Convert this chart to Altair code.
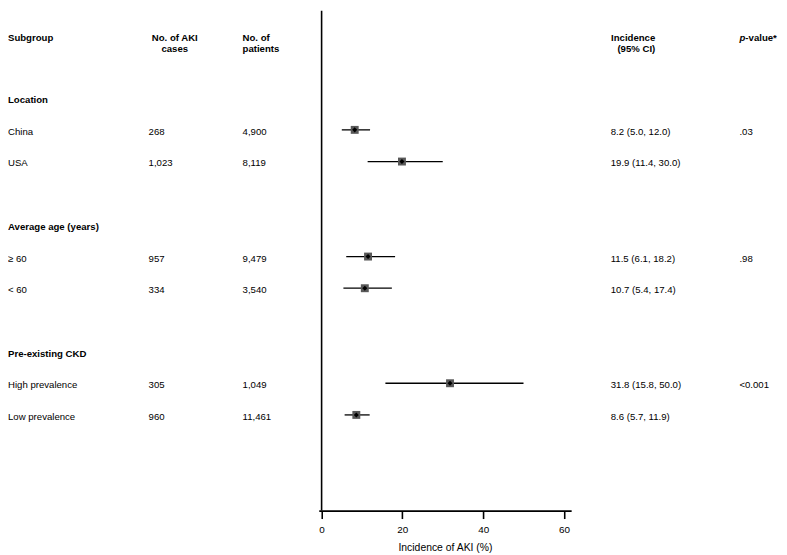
import altair as alt
import pandas as pd

# ---- data ----
sections = ["Location", "Average age (years)", "Pre-existing CKD"]
subgroups = [["China", "USA"], ["\u2265 60", "< 60"], ["High prevalence", "Low prevalence"]]
aki_cases = ["268", "1,023", "957", "334", "305", "960"]
patients = ["4,900", "8,119", "9,479", "3,540", "1,049", "11,461"]
incidence = [8.2, 19.9, 11.5, 10.7, 31.8, 8.6]
ci_low = [5.0, 11.4, 6.1, 5.4, 15.8, 5.7]
ci_high = [12.0, 30.0, 18.2, 17.4, 50.0, 11.9]
p_values = [".03", "", ".98", "", "<0.001", ""]
x_ticks = [0, 20, 40, 60]

FONT = "Liberation Sans"
FS = 9.7

# ---- tables ----
sec_rows, item_rows = [], []
i = 0
for k, sec in enumerate(sections):
    sec_rows.append({"label": sec, "row": k * 4})
    for j, sg in enumerate(subgroups[k]):
        item_rows.append({
            "label": sg,
            "row": k * 4 + 1 + j,
            "cases": aki_cases[i],
            "patients": patients[i],
            "inc": incidence[i],
            "lo": ci_low[i],
            "hi": ci_high[i],
            "inc_txt": f"{incidence[i]:.1f} ({ci_low[i]:.1f}, {ci_high[i]:.1f})",
            "p": p_values[i],
        })
        i += 1
sec_df = pd.DataFrame(sec_rows)
df = pd.DataFrame(item_rows)

H = 505
yscale = alt.Scale(domain=[-88.3 / 32, (H - 88.3) / 32], reverse=True, zero=False, nice=False)
xscale = alt.Scale(domain=[-0.7, 61.8], range=[314, 569], zero=False, nice=False)
Y = alt.Y("row:Q", scale=yscale, axis=None)


def col_text(field, xpix, align="left", bold=False, data=df):
    return alt.Chart(data).mark_text(
        align=align, baseline="middle", font=FONT, fontSize=FS, dy=2,
        fontWeight="bold" if bold else "normal", color="black"
    ).encode(x=alt.value(xpix), y=Y, text=f"{field}:N")


def head_text(label, xpix, ypix, align="left", italic=False):
    return alt.Chart(pd.DataFrame({"t": [label]})).mark_text(
        align=align, baseline="middle", font=FONT, fontSize=FS, fontWeight="bold",
        fontStyle="italic" if italic else "normal", color="black"
    ).encode(x=alt.value(xpix), y=alt.value(ypix), text="t:N")


ci = alt.Chart(df).mark_rule(color="black", strokeWidth=1.3).encode(
    x=alt.X("lo:Q", scale=xscale, axis=alt.Axis(
        values=x_ticks, title="Incidence of AKI (%)", grid=False, labelFlush=False,
        domainColor="black", domainWidth=1.6, tickColor="black", tickWidth=1.6,
        tickSize=8, labelFont=FONT, labelFontSize=10, labelColor="black", labelPadding=6,
        titleFont=FONT, titleFontSize=10.5, titleFontWeight="normal", titleColor="black",
        titlePadding=8)),
    x2="hi:Q",
    y=Y,
)
sq = alt.Chart(df).mark_square(color="#585858", size=64, opacity=1).encode(
    x=alt.X("inc:Q", scale=xscale), y=Y)
dia = alt.Chart(df).mark_point(shape="diamond", filled=True, color="black", size=26, opacity=1).encode(
    x=alt.X("inc:Q", scale=xscale), y=Y)

vline = alt.Chart(pd.DataFrame({"z": [0]})).mark_rule(color="black", strokeWidth=1.6).encode(
    x=alt.X("z:Q", scale=xscale), y=alt.value(0), y2=alt.value(H))

layers = [
    vline, ci, sq, dia,
    col_text("label", 0, bold=True, data=sec_df),
    col_text("label", 0),
    col_text("cases", 142),
    col_text("patients", 237),
    col_text("inc_txt", 609),
    col_text("p", 739),
    head_text("Subgroup", 0, 27.5),
    head_text("No. of AKI", 168.5, 27.5, align="center"),
    head_text("cases", 168.5, 39, align="center"),
    head_text("No. of", 237, 27.5),
    head_text("patients", 237, 39),
    head_text("Incidence", 654, 27.5, align="right"),
    head_text("(95% CI)", 654, 39, align="right"),
    head_text("p", 739, 27.5, italic=True),
    head_text("-value*", 745, 27.5),
]

chart = alt.layer(*layers).properties(
    width=771, height=H,
    autosize=alt.AutoSizeParams(type="none"),
    padding={"left": 0, "top": 0, "right": 8, "bottom": 42},
).configure_view(stroke=None)

chart.save("out.html", embed_options={"renderer": "svg", "actions": False})
